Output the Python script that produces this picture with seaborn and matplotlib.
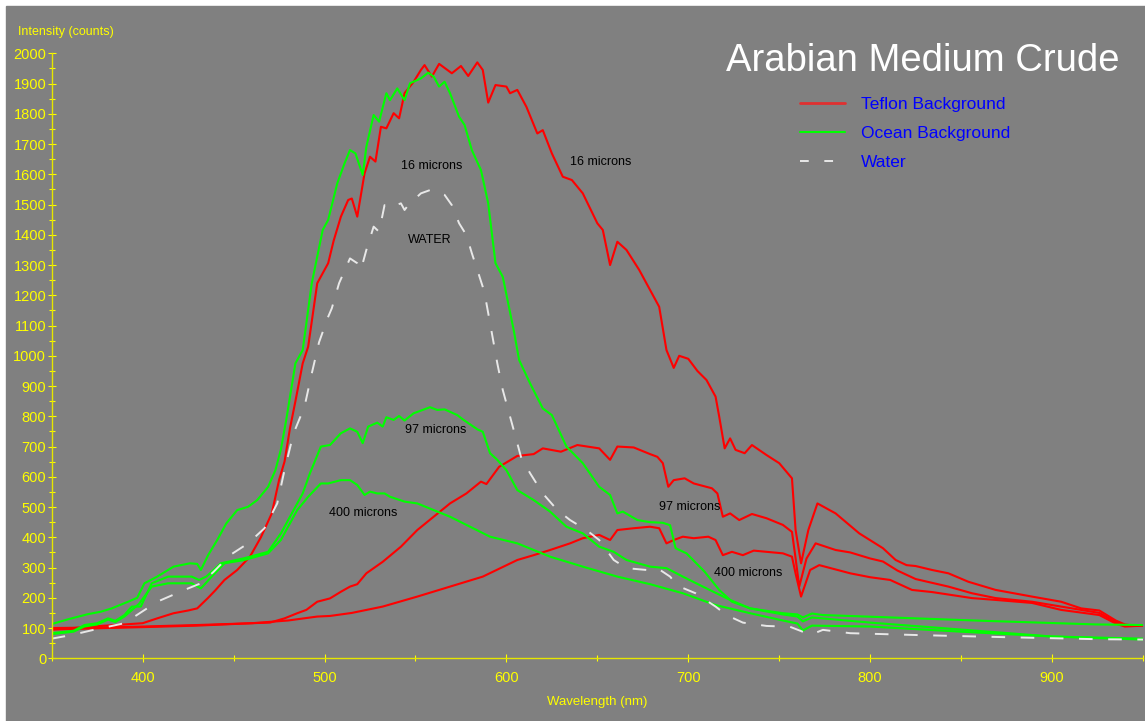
import pandas as pd
import matplotlib.pyplot as plt
import seaborn as sns
from matplotlib.lines import Line2D
from matplotlib.patches import Rectangle
from matplotlib.ticker import MultipleLocator

# Teflon background, 16 / 97 / 400 micron slicks
teflon_16_wl = [350, 360, 372, 385, 400, 408, 417, 425, 430, 436, 440, 445, 452, 459, 465, 471, 475, 478, 481, 484,
                488, 491, 496, 502, 505, 509, 513, 515, 518, 522, 525, 528, 531, 534, 538, 541, 544, 549, 553, 555,
                559, 563, 570, 575, 579, 584, 587, 590, 594, 600, 602, 606, 611, 617, 620, 625, 631, 636, 642, 650,
                653, 657, 661, 666, 673, 684, 688, 692, 695, 700, 705, 710, 715, 717, 720, 723, 726, 731, 735, 743,
                750, 757, 759, 762, 766, 771, 781, 794, 807, 814, 820, 825, 834, 843, 854, 869, 889, 905, 916, 926,
                935, 940, 945, 950]
teflon_16 = [96, 99, 105, 110, 116, 132, 149, 158, 165, 200, 225, 259, 292, 336, 400, 479, 589, 650, 760, 850,
             975, 1030, 1240, 1306, 1380, 1460, 1515, 1520, 1460, 1603, 1658, 1642, 1757, 1752, 1802, 1785, 1868, 1906, 1945, 1961,
             1923, 1965, 1934, 1958, 1925, 1970, 1945, 1837, 1895, 1890, 1868, 1879, 1823, 1735, 1746, 1669, 1592, 1581, 1537, 1438,
             1416, 1300, 1377, 1350, 1284, 1162, 1019, 960, 1000, 990, 950, 920, 865, 799, 694, 727, 689, 678, 705, 672,
             645, 595, 424, 314, 424, 512, 479, 413, 364, 325, 308, 305, 292, 281, 253, 226, 204, 187, 165, 158,
             125, 112, 108, 110]

teflon_97_wl = [350, 380, 400, 430, 460, 470, 478, 485, 490, 496, 503, 509, 514, 518, 523, 532, 542, 551, 560, 569,
                578, 586, 589, 596, 606, 615, 620, 630, 639, 651, 657, 661, 670, 679, 683, 686, 689, 692, 698, 703,
                713, 716, 719, 723, 728, 735, 743, 752, 757, 759, 761, 765, 770, 781, 789, 800, 807, 815, 825, 843,
                856, 869, 889, 905, 916, 926, 935, 940, 950]
teflon_97 = [100, 102, 105, 110, 116, 118, 132, 149, 160, 187, 198, 220, 237, 245, 281, 319, 369, 424, 468, 512,
             545, 584, 576, 633, 669, 675, 694, 683, 705, 694, 656, 700, 697, 675, 666, 645, 567, 589, 595, 578,
             562, 545, 468, 479, 457, 477, 463, 441, 418, 330, 237, 330, 380, 358, 350, 330, 320, 290, 262, 237,
             215, 199, 187, 171, 160, 150, 120, 110, 108]

teflon_400_wl = [350, 380, 400, 430, 460, 480, 496, 503, 515, 532, 551, 569, 587, 606, 615, 624, 635, 642, 651, 657,
                 661, 670, 679, 684, 688, 692, 697, 703, 711, 715, 719, 724, 730, 736, 743, 752, 757, 759, 762, 767,
                 772, 789, 800, 811, 823, 834, 856, 869, 889, 905, 926, 935, 940, 950]
teflon_400 = [95, 100, 103, 108, 116, 125, 138, 140, 150, 171, 204, 237, 270, 325, 341, 358, 380, 397, 408, 391,
              424, 430, 435, 430, 380, 391, 402, 397, 402, 391, 341, 352, 341, 356, 352, 347, 336, 280, 204, 292,
              308, 281, 268, 259, 226, 219, 199, 193, 183, 160, 143, 115, 105, 108]

# Ocean background, 16 / 97 / 400 micron slicks
ocean_16_wl = [350, 359, 370, 377, 383, 392, 397, 401, 408, 417, 426, 430, 432, 436, 441, 446, 452, 458, 463, 469,
               473, 476, 479, 484, 488, 493, 499, 502, 507, 511, 514, 517, 521, 523, 527, 530, 534, 536, 540, 544,
               547, 553, 557, 560, 563, 566, 569, 574, 577, 581, 586, 590, 594, 598, 604, 607, 613, 620, 625, 633,
               642, 651, 657, 661, 664, 672, 679, 686, 690, 693, 699, 709, 717, 724, 734, 752, 760, 763, 768, 774,
               807, 862, 924, 950]
ocean_16 = [113, 129, 146, 154, 165, 187, 200, 248, 270, 303, 314, 312, 292, 341, 391, 446, 490, 501, 523, 567,
            622, 690, 790, 975, 1019, 1240, 1416, 1449, 1570, 1636, 1680, 1669, 1598, 1691, 1796, 1774, 1868, 1845, 1884, 1845,
            1901, 1917, 1936, 1923, 1890, 1906, 1868, 1790, 1763, 1680, 1614, 1504, 1306, 1261, 1085, 986, 909, 826, 804, 700,
            645, 567, 540, 479, 485, 457, 450, 448, 440, 364, 347, 286, 226, 187, 165, 149, 145, 135, 148, 143,
            136, 124, 112, 110]

ocean_97_wl = [350, 362, 368, 375, 381, 385, 390, 394, 399, 405, 414, 427, 431, 435, 443, 456, 469, 476, 483, 488,
               492, 498, 503, 509, 514, 518, 521, 524, 529, 532, 534, 538, 541, 544, 549, 558, 562, 566, 573, 576,
               584, 587, 591, 595, 600, 606, 615, 624, 633, 642, 651, 659, 666, 679, 688, 697, 708, 723, 734, 752,
               760, 763, 768, 800, 850, 900, 950]
ocean_97 = [83, 91, 110, 116, 132, 124, 143, 171, 171, 248, 270, 270, 259, 270, 314, 331, 352, 413, 490, 545,
            612, 700, 705, 744, 760, 749, 711, 766, 779, 766, 797, 788, 801, 786, 810, 830, 821, 823, 804, 790,
            757, 749, 678, 656, 622, 556, 523, 485, 435, 413, 369, 352, 325, 303, 298, 270, 237, 193, 165, 145,
            138, 122, 135, 118, 95, 72, 65]

ocean_400_wl = [350, 362, 368, 375, 381, 385, 390, 398, 405, 414, 427, 432, 438, 445, 456, 469, 476, 485, 491, 498,
                502, 509, 514, 518, 522, 525, 529, 533, 536, 544, 551, 560, 569, 580, 591, 606, 624, 642, 661, 679,
                697, 715, 734, 752, 760, 763, 768, 800, 850, 900, 950]
ocean_400 = [80, 88, 105, 112, 128, 120, 138, 180, 237, 248, 248, 231, 270, 314, 325, 347, 391, 490, 534, 578,
             578, 589, 589, 573, 540, 551, 545, 545, 534, 518, 512, 490, 468, 435, 402, 380, 336, 303, 270, 245,
             215, 176, 149, 125, 115, 92, 108, 105, 88, 72, 62]

# Water
water_wl = [350, 361, 373, 390, 392, 408, 423, 432, 439, 448, 458, 467, 474, 478, 483, 489, 493, 497, 502, 504,
            508, 514, 518, 520, 523, 527, 530, 533, 535, 542, 544, 546, 553, 559, 566, 570, 574, 578, 581, 584,
            587, 589, 592, 595, 598, 604, 608, 613, 620, 628, 635, 644, 651, 659, 666, 677, 683, 690, 694, 704,
            715, 721, 730, 743, 756, 762, 767, 774, 789, 825, 880, 926, 950]
water = [65, 77, 94, 116, 124, 187, 226, 248, 286, 341, 380, 430, 512, 622, 744, 832, 942, 1045, 1129, 1157,
         1240, 1322, 1306, 1284, 1350, 1427, 1410, 1498, 1488, 1504, 1482, 1498, 1537, 1550, 1532, 1498, 1438, 1399, 1339, 1284,
         1228, 1174, 1075, 975, 887, 755, 666, 612, 545, 490, 457, 424, 391, 325, 298, 292, 298, 270, 240, 215,
         171, 143, 118, 107, 104, 90, 77, 94, 83, 77, 69, 63, 62]

labels = [('16 microns', 559, 1627), ('16 microns', 652, 1640), ('WATER', 558, 1383),
          ('97 microns', 561, 755), ('400 microns', 521, 479), ('97 microns', 701, 501),
          ('400 microns', 733, 281)]

gray = '#808080'
yellow = '#ffff00'
red = '#ff0000'
green = '#00ff00'
white = '#e8e8e8'

sns.set_style('ticks')
plt.rcParams['font.family'] = ['Liberation Sans', 'DejaVu Sans']

fig, ax = plt.subplots(figsize=(11.45, 7.21), dpi=100)
fig.patch.set_facecolor('white')
fig.patches.append(Rectangle((6 / 1145, 0), 1, 715 / 721, transform=fig.transFigure,
                             color=gray, zorder=-10))
fig.subplots_adjust(left=51.7 / 1145, right=1143 / 1145, bottom=62.7 / 721, top=1 - 53.3 / 721)
ax.set_facecolor(gray)

series = [
    (teflon_16_wl, teflon_16, red),
    (teflon_97_wl, teflon_97, red),
    (teflon_400_wl, teflon_400, red),
    (ocean_16_wl, ocean_16, green),
    (ocean_97_wl, ocean_97, green),
    (ocean_400_wl, ocean_400, green),
]
for wl, vals, col in series:
    df = pd.DataFrame({'wavelength': wl, 'intensity': vals})
    sns.lineplot(data=df, x='wavelength', y='intensity', color=col, lw=1.5,
                 estimator=None, ax=ax)

df_w = pd.DataFrame({'wavelength': water_wl, 'intensity': water})
sns.lineplot(data=df_w, x='wavelength', y='intensity', color=white, lw=1.4,
             estimator=None, ax=ax)
ax.lines[-1].set_dashes([7, 8])

for txt, x, y in labels:
    ax.text(x, y, txt, fontsize=9, color='black', ha='center', va='center')

ax.set_xlim(350, 950)
ax.set_ylim(0, 2000)
ax.xaxis.set_major_locator(MultipleLocator(100))
ax.xaxis.set_minor_locator(MultipleLocator(50))
ax.yaxis.set_major_locator(MultipleLocator(100))
ax.yaxis.set_minor_locator(MultipleLocator(50))
ax.set_xticks([400, 500, 600, 700, 800, 900])
ax.tick_params(which='both', direction='inout', colors=yellow, labelcolor=yellow, width=0.8)
ax.tick_params(which='major', length=6, labelsize=10.5)
ax.tick_params(axis='y', which='major', pad=1)
ax.tick_params(axis='x', which='major', pad=6)
ax.tick_params(which='minor', length=4)
for s in ['top', 'right']:
    ax.spines[s].set_visible(False)
for s in ['left', 'bottom']:
    ax.spines[s].set_color('#e6e600')
    ax.spines[s].set_linewidth(1)

ax.set_xlabel('Wavelength (nm)', color=yellow, fontsize=9.5, labelpad=8)
ax.set_ylabel('')
fig.text(18 / 1145, 1 - 32 / 721, 'Intensity (counts)', color=yellow, fontsize=9, va='center', ha='left')
fig.text(923 / 1145, 1 - 61 / 721, 'Arabian Medium Crude', color='white', fontsize=27.5,
         ha='center', va='center')

handles = [Line2D([], [], color='#e03030', lw=2),
           Line2D([], [], color=green, lw=1.5),
           Line2D([], [], color=white, lw=1.4, dashes=[4.5, 8])]
leg = ax.legend(handles, ['Teflon Background', 'Ocean Background', 'Water'],
                loc='upper left', bbox_to_anchor=(800 / 1145, 1 - 97 / 721),
                bbox_transform=fig.transFigure, frameon=False, fontsize=12.5,
                handlelength=2.6, handletextpad=0.9, labelspacing=0.8,
                borderpad=0, borderaxespad=0)
for t in leg.get_texts():
    t.set_color('#0000ff')

fig.savefig('out.png', dpi=100, facecolor=fig.get_facecolor())
